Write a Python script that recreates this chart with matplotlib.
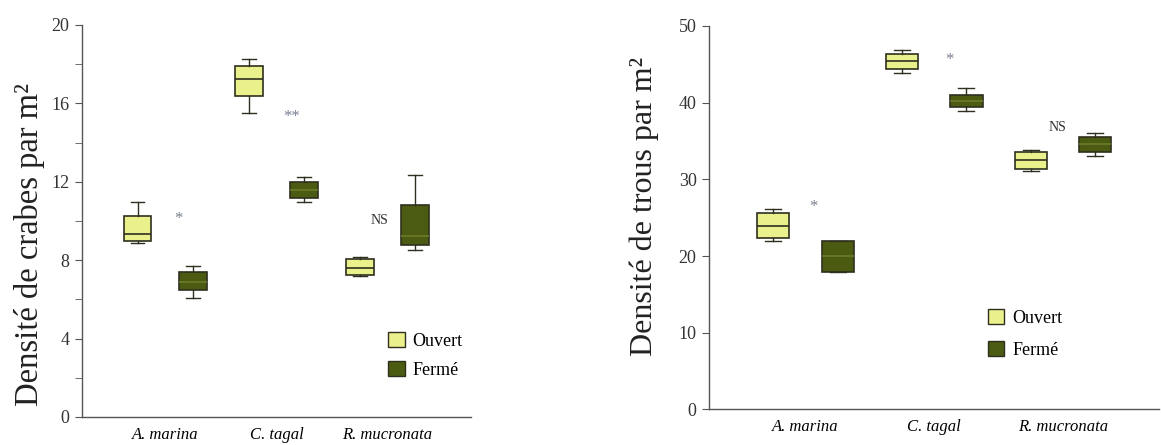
import matplotlib.pyplot as plt
from matplotlib.patches import Patch
from matplotlib.ticker import MultipleLocator

plt.rcParams['font.family'] = ['Liberation Serif', 'DejaVu Serif']

especes = ['A. marina', 'C. tagal', 'R. mucronata']
traitements = ['Ouvert', 'Fermé']

# crabes : (moustache basse, q1, médiane, q3, moustache haute)
crabes_ouvert = [(8.9, 9.0, 9.33, 10.26, 10.98),
                 (15.5, 16.35, 17.26, 17.88, 18.27),
                 (7.17, 7.22, 7.6, 8.07, 8.16)]
crabes_ferme = [(6.07, 6.46, 6.9, 7.39, 7.68),
                (10.99, 11.16, 11.59, 12.0, 12.22),
                (8.5, 8.75, 9.24, 10.82, 12.35)]
crabes_signif = ['*', '**', 'NS']
crabes_signif_x = [0.12, 1.14, 1.93]
crabes_signif_y = [10.1, 15.3, 10.0]

# trous
trous_ouvert = [(22.0, 22.39, 23.91, 25.57, 26.09),
                (43.83, 44.35, 45.48, 46.35, 46.87),
                (31.09, 31.35, 32.52, 33.57, 33.83)]
trous_ferme = [(17.96, 17.96, 20.0, 22.0, 22.0),
               (38.91, 39.39, 40.26, 41.04, 41.87),
               (33.04, 33.57, 34.6, 35.57, 36.09)]
trous_signif = ['*', '*', 'NS']
trous_signif_x = [0.06, 1.12, 1.96]
trous_signif_y = [26.4, 45.5, 36.8]

col_ouvert = '#E9F08C'
col_ferme = '#4B5C12'
col_bord = '#2f2f1f'


def stats(vals):
    lo, q1, med, q3, hi = vals
    return dict(whislo=lo, q1=q1, med=med, q3=q3, whishi=hi, fliers=[])


def panneau(ax, ouvert, ferme, signif, signif_x, signif_y, ylabel, ymax,
            major, minor, leg_pos, leg_space, lab_size, lab_coords):
    pos_o = [i - 0.25 for i in range(len(especes))]
    pos_f = [i + 0.25 for i in range(len(especes))]
    for data, pos, col, medcol in [(ouvert, pos_o, col_ouvert, col_bord),
                                   (ferme, pos_f, col_ferme, '#6b7a2a')]:
        ax.bxp([stats(v) for v in data], positions=pos, widths=0.25,
               patch_artist=True, showfliers=False,
               boxprops=dict(facecolor=col, edgecolor=col_bord, linewidth=1.2),
               medianprops=dict(color=medcol, linewidth=1.2),
               whiskerprops=dict(color=col_bord, linewidth=1),
               capprops=dict(color=col_bord, linewidth=1))
    for s, x, y in zip(signif, signif_x, signif_y):
        if s == 'NS':
            ax.text(x, y, s, ha='center', va='center', fontsize=10,
                    color='#333')
        else:
            ax.text(x, y, s, ha='center', va='center', fontsize=12,
                    color='#7a8090')
    ax.set_xlim(-0.75, 2.75)
    ax.set_ylim(0, ymax)
    ax.set_xticks(range(len(especes)))
    ax.set_xticklabels(especes, style='italic', fontsize=12)
    ax.tick_params(axis='x', length=0, pad=7)
    ax.yaxis.set_major_locator(MultipleLocator(major))
    ax.yaxis.set_minor_locator(MultipleLocator(minor))
    ax.tick_params(axis='y', which='both', length=5, color='#555',
                   labelsize=13, labelcolor='#333', pad=4)
    for side in ['top', 'right']:
        ax.spines[side].set_visible(False)
    for side in ['left', 'bottom']:
        ax.spines[side].set_color('#555')
        ax.spines[side].set_linewidth(1)
    ax.set_ylabel(ylabel, fontsize=lab_size, color='#222')
    ax.yaxis.set_label_coords(*lab_coords)
    handles = [Patch(facecolor=col_ouvert, edgecolor=col_bord),
               Patch(facecolor=col_ferme, edgecolor=col_bord)]
    ax.legend(handles, traitements, loc='center left', bbox_to_anchor=leg_pos,
              frameon=False, fontsize=13, handlelength=0.9, handleheight=0.9,
              handletextpad=0.45, labelspacing=leg_space)


fig = plt.figure(figsize=(11.61, 4.45), dpi=100)
ax1 = fig.add_axes([0.0706, 0.063, 0.335, 0.881])
ax2 = fig.add_axes([0.6107, 0.080, 0.388, 0.8616])

panneau(ax1, crabes_ouvert, crabes_ferme, crabes_signif, crabes_signif_x,
        crabes_signif_y, 'Densité de crabes par m²', 20, 4, 2,
        (0.746, 0.157), 0.6, 23.5, (-0.095, 0.44))
panneau(ax2, trous_ouvert, trous_ferme, trous_signif, trous_signif_x,
        trous_signif_y, 'Densité de trous par m²', 50, 10, 10,
        (0.583, 0.196), 0.8, 23, (-0.11, 0.53))

fig.savefig('out.png', dpi=100)
